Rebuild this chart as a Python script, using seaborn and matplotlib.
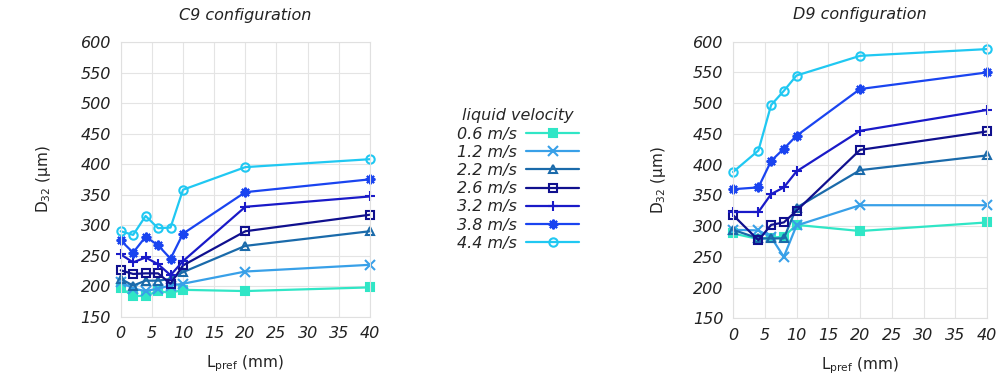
import pandas as pd
import matplotlib
matplotlib.use("Agg")
import matplotlib.pyplot as plt
import seaborn as sns

# velocidades del liquido (leyenda)
velocities = ["0.6 m/s", "1.2 m/s", "2.2 m/s", "2.6 m/s", "3.2 m/s", "3.8 m/s", "4.4 m/s"]

# C9 configuration
lpref_c9 = [0, 2, 4, 6, 8, 10, 20, 40]
c9_06 = [197, 184, 184, 192, 189, 194, 192, 198]
c9_12 = [207, 196, 192, 196, 201, 204, 224, 235]
c9_22 = [212, 201, 209, 209, 212, 223, 266, 290]
c9_26 = [226, 220, 221, 221, 204, 234, 290, 317]
c9_32 = [252, 239, 247, 236, 218, 241, 330, 347]
c9_38 = [275, 255, 281, 267, 245, 286, 354, 375]
c9_44 = [290, 284, 315, 295, 296, 358, 395, 408]

# D9 configuration
lpref_d9 = [0, 4, 6, 8, 10, 20, 40]
d9_06 = [288, 279, 281, 283, 302, 292, 306]
d9_12 = [294, 293, 282, 250, 301, 334, 334]
d9_22 = [294, 280, 280, 280, 330, 391, 415]
d9_26 = [318, 277, 302, 306, 325, 424, 454]
d9_32 = [323, 323, 352, 363, 389, 455, 489]
d9_38 = [360, 363, 406, 426, 447, 523, 550]
d9_44 = [388, 423, 497, 520, 545, 577, 588]

colors = ["#30e6c6", "#38a0e8", "#1a6aaa", "#10108e", "#1a1ac8", "#1a44f0", "#20c8f2"]
markers = ["s", "x", "^", "s", "+", (8, 2, 0), "o"]
sizes = [5.5, 6.5, 6, 5.5, 7, 7, 6]
filled = [True, True, False, False, True, True, False]

def long_df(x, series):
    rows = []
    for vel, vals in zip(velocities, series):
        for xv, yv in zip(x, vals):
            rows.append({"Lpref": xv, "D32": yv, "vel": vel})
    return pd.DataFrame(rows)

df_c9 = long_df(lpref_c9, [c9_06, c9_12, c9_22, c9_26, c9_32, c9_38, c9_44])
df_d9 = long_df(lpref_d9, [d9_06, d9_12, d9_22, d9_26, d9_32, d9_38, d9_44])

sns.set_style("white")
plt.rcParams["font.family"] = ["DejaVu Sans"]

fig = plt.figure(figsize=(10.04, 3.92), dpi=100)
ax1 = fig.add_axes([0.1202, 0.1921, 0.2483, 0.7008])
ax2 = fig.add_axes([0.7301, 0.1880, 0.2530, 0.7056])

fs = 11.5
for ax, df, title in [(ax1, df_c9, "C9 configuration"), (ax2, df_d9, "D9 configuration")]:
    for i, vel in enumerate(velocities):
        sub = df[df["vel"] == vel]
        sns.lineplot(
            data=sub, x="Lpref", y="D32", ax=ax, color=colors[i],
            marker=markers[i], markersize=sizes[i],
            mec=colors[i], mfc=colors[i] if filled[i] else "none",
            mew=1.5, linewidth=1.6, label=vel, clip_on=False,
            errorbar=None,
        )
    ax.set_xlim(0, 40)
    ax.set_ylim(150, 600)
    ax.set_xticks(range(0, 41, 5))
    ax.set_yticks(range(150, 601, 50))
    ax.grid(True, color="#e4e4e4", linewidth=0.8)
    for sp in ax.spines.values():
        sp.set_color("#e0e0e0")
        sp.set_linewidth(0.8)
    ax.tick_params(length=0, labelsize=fs, pad=7, colors="#222222")
    for lab in ax.get_xticklabels() + ax.get_yticklabels():
        lab.set_style("italic")
    ax.set_title(title, fontsize=fs, style="italic", pad=16, color="#222222")
    ax.set_xlabel(r"L$_{\mathrm{pref}}$ (mm)", fontsize=fs - 0.5, color="#222222")
    ax.set_ylabel(r"D$_{32}$ (μm)", fontsize=fs - 0.5, color="#222222")
    ax.xaxis.set_label_coords(0.5, -0.135)
    ax.get_legend().remove()

ax1.yaxis.set_label_coords(-0.27, 0.5)
ax2.yaxis.set_label_coords(-0.255, 0.5)

handles, labels = ax1.get_legend_handles_labels()
leg = fig.legend(
    handles, labels, title="liquid velocity", loc="center",
    bbox_to_anchor=(0.516, 0.542), frameon=False, markerfirst=False,
    fontsize=fs, title_fontsize=fs, handlelength=3.3, handletextpad=0.6,
    labelspacing=0.2, borderpad=0.2,
)
leg.get_title().set_style("italic")
for t in leg.get_texts():
    t.set_style("italic")

fig.savefig("out.png", dpi=100)
